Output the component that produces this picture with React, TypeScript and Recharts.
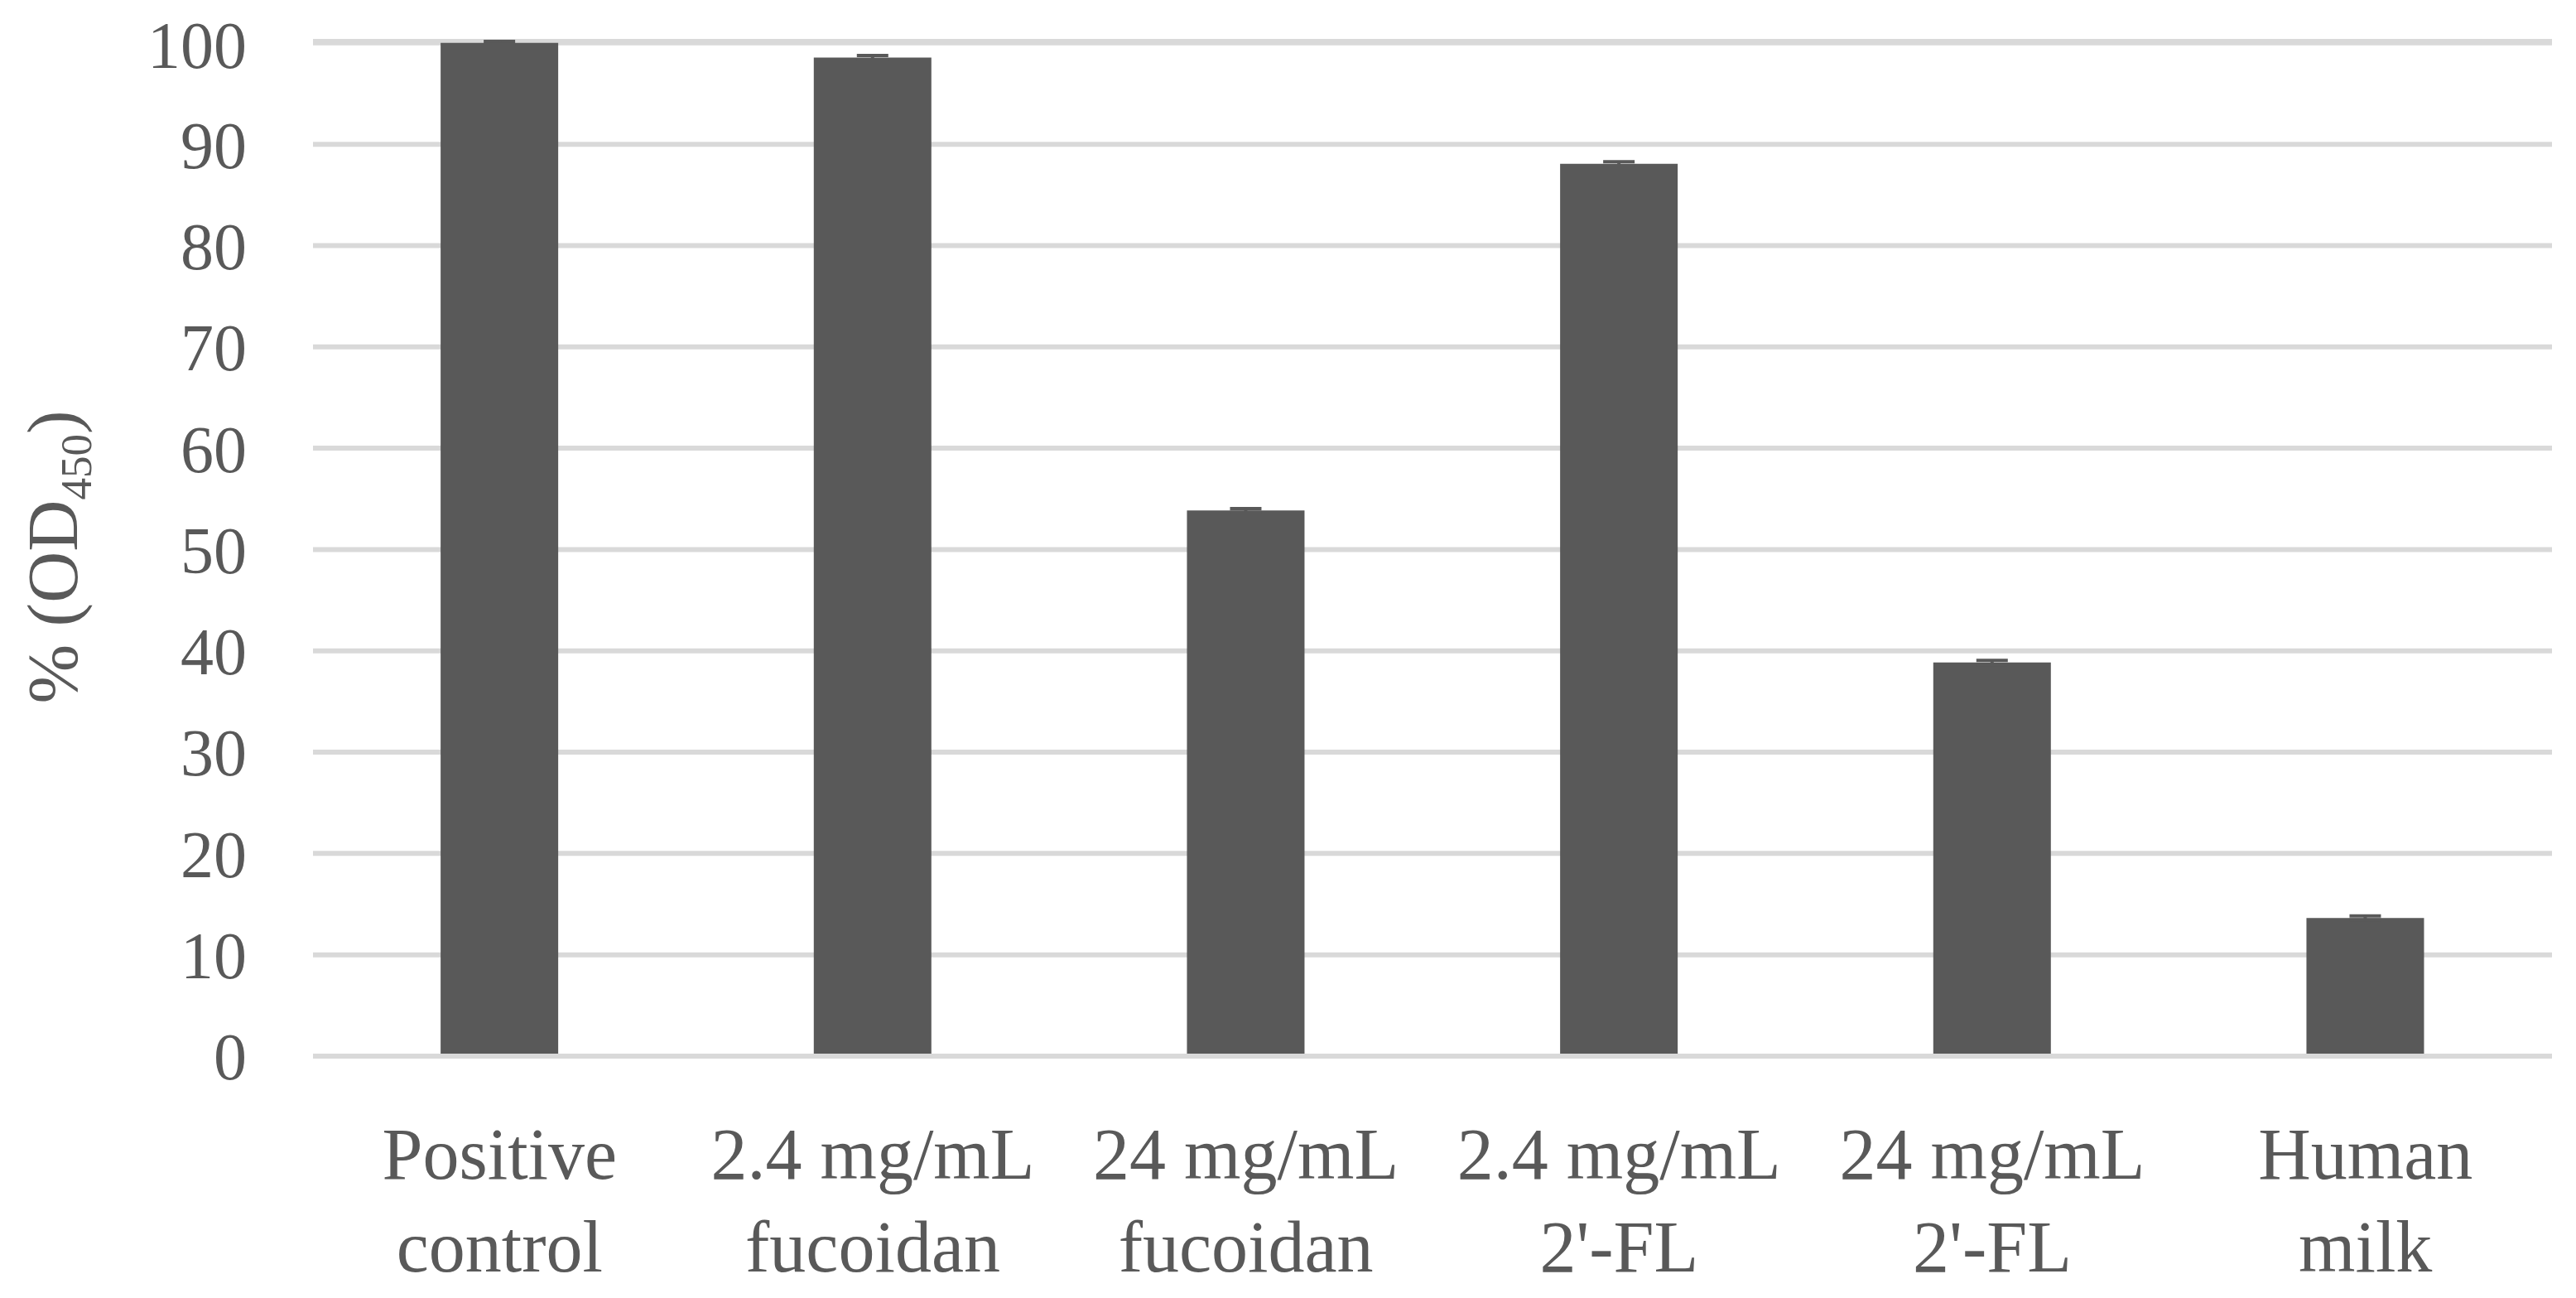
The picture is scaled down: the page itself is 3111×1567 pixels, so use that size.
import { BarChart, Bar, XAxis, YAxis, CartesianGrid, ErrorBar, Label } from 'recharts'

const categories = [
    'Positive\ncontrol',
    '2.4 mg/mL\nfucoidan',
    '24 mg/mL\nfucoidan',
    "2.4 mg/mL\n2'-FL",
    "24 mg/mL\n2'-FL",
    'Human\nmilk'
]
const values = [100, 98.55, 53.85, 88.08, 38.85, 13.64]
const errors = [0.15, 0.2, 0.2, 0.2, 0.2, 0.2]
const yTicks = [0, 10, 20, 30, 40, 50, 60, 70, 80, 90, 100]

const data = categories.map((name, i) => ({ name, value: values[i], err: errors[i] }))

const TEXT = '#595959'
const FONT = 'Liberation Serif'

function XTick({ x, y, payload }: any): JSX.Element {
    const lines: string[] = String(payload.value).split('\n')
    return (
        <text x={x} y={y} textAnchor="middle" fill={TEXT} fontSize={88} fontFamily={FONT}>
            {lines.map((line, i) => (
                <tspan key={i} x={x} y={y + 148 + i * 112}>{line}</tspan>
            ))}
        </text>
    )
}

function YLabel({ viewBox }: any): JSX.Element {
    const cx = viewBox.x + 85
    const cy = viewBox.y + viewBox.height / 2 + 10
    return (
        <text x={cx} y={cy} transform={`rotate(-90 ${cx} ${cy})`} textAnchor="middle" fill={TEXT} fontSize={86} fontFamily={FONT}>
            % (OD<tspan dy={17} fontSize={53}>450</tspan><tspan dy={-17}>)</tspan>
        </text>
    )
}

export default function App(): JSX.Element {
    return (
        <div style={{ width: 3095, height: 1551, background: '#fff' }}>
            <BarChart
                width={3095}
                height={1551}
                data={data}
                margin={{ top: 42, right: 21, bottom: 0, left: 0 }}
                barCategoryGap="34.2%"
            >
                <CartesianGrid vertical={false} stroke="#d9d9d9" strokeWidth={6} />
                <YAxis
                    domain={[0, 100]}
                    ticks={yTicks}
                    width={370}
                    axisLine={false}
                    tickLine={false}
                    tickSize={0}
                    tickMargin={80}
                    tick={{ fill: TEXT, fontSize: 80, fontFamily: FONT }}
                >
                    <Label content={<YLabel />} />
                </YAxis>
                <Bar dataKey="value" fill="#595959" isAnimationActive={false}>
                    <ErrorBar dataKey="err" direction="y" width={19} strokeWidth={4} stroke="#595959" />
                </Bar>
                <XAxis
                    dataKey="name"
                    height={284}
                    axisLine={{ stroke: '#d9d9d9', strokeWidth: 6 }}
                    tickLine={false}
                    tickSize={0}
                    tickMargin={0}
                    interval={0}
                    tick={<XTick />}
                />
            </BarChart>
        </div>
    )
}
